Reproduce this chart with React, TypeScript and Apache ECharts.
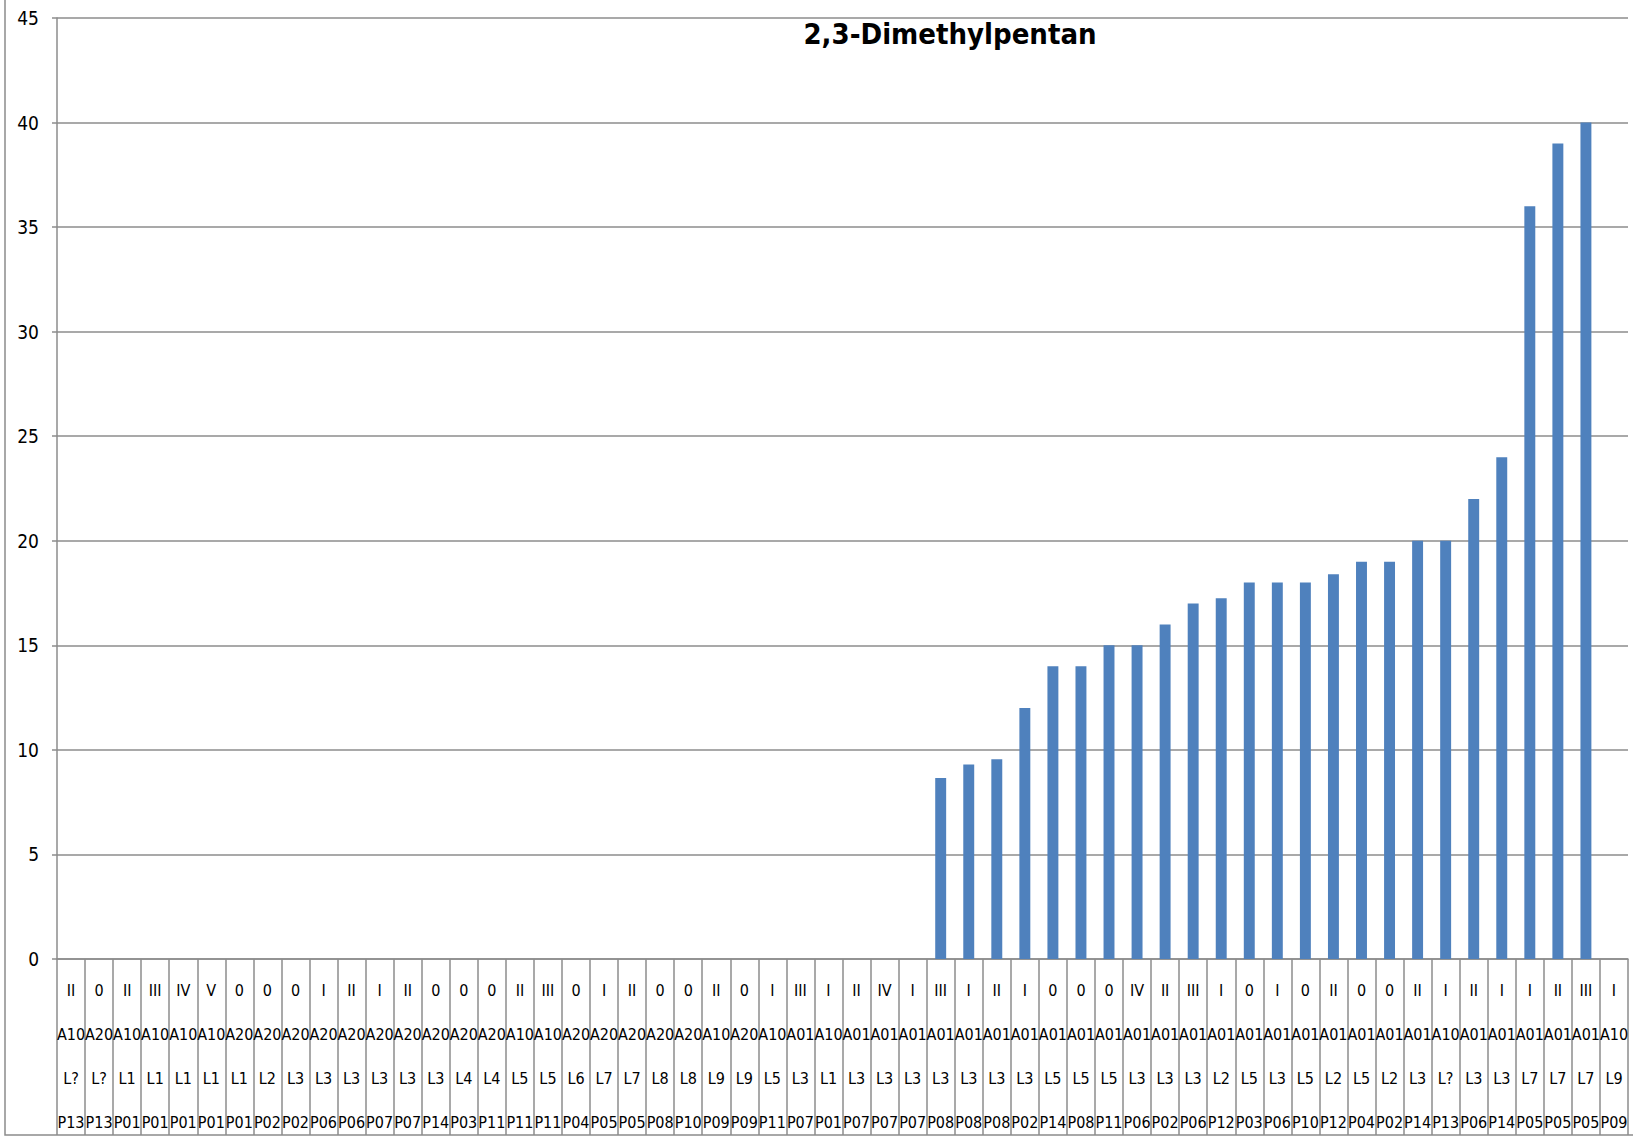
import React, { useEffect, useRef } from "react";
import * as echarts from "echarts";

const TITLE = "2,3-Dimethylpentan";

const rowLevel: string[] = ["II","0","II","III","IV","V","0","0","0","I","II","I","II","0","0","0","II","III","0","I","II","0","0","II","0","I","III","I","II","IV","I","III","I","II","I","0","0","0","IV","II","III","I","0","I","0","II","0","0","II","I","II","I","I","II","III","I"];
const rowA: string[] = ["A10","A20","A10","A10","A10","A10","A20","A20","A20","A20","A20","A20","A20","A20","A20","A20","A10","A10","A20","A20","A20","A20","A20","A10","A20","A10","A01","A10","A01","A01","A01","A01","A01","A01","A01","A01","A01","A01","A01","A01","A01","A01","A01","A01","A01","A01","A01","A01","A01","A10","A01","A01","A01","A01","A01","A10"];
const rowL: string[] = ["L?","L?","L1","L1","L1","L1","L1","L2","L3","L3","L3","L3","L3","L3","L4","L4","L5","L5","L6","L7","L7","L8","L8","L9","L9","L5","L3","L1","L3","L3","L3","L3","L3","L3","L3","L5","L5","L5","L3","L3","L3","L2","L5","L3","L5","L2","L5","L2","L3","L?","L3","L3","L7","L7","L7","L9"];
const rowP: string[] = ["P13","P13","P01","P01","P01","P01","P01","P02","P02","P06","P06","P07","P07","P14","P03","P11","P11","P11","P04","P05","P05","P08","P10","P09","P09","P11","P07","P01","P07","P07","P07","P08","P08","P08","P02","P14","P08","P11","P06","P02","P06","P12","P03","P06","P10","P12","P04","P02","P14","P13","P06","P14","P05","P05","P05","P09"];

const values: number[] = [
  0, 0, 0, 0, 0, 0, 0, 0, 0, 0,
  0, 0, 0, 0, 0, 0, 0, 0, 0, 0,
  0, 0, 0, 0, 0, 0, 0, 0, 0, 0,
  0,
  8.65, 9.3, 9.55, 12, 14, 14, 15, 15, 16, 17,
  17.25, 18, 18, 18, 18.4, 19, 19, 20, 20, 22,
  24, 36, 39, 40, 0,
];

const yTicks = { min: 0, max: 45, interval: 5 };

export default function App() {
  const ref = useRef<HTMLDivElement>(null);
  useEffect(() => {
    document.body.style.margin = "0";
    if (!ref.current) return;
    const chart = echarts.init(ref.current, null, { renderer: "svg" });
    const categories = rowLevel.map((v, i) => [v, rowA[i], rowL[i], rowP[i]].join("\n"));
    const grey = "#8c8c8c";
    const font = "'Liberation Sans Narrow', 'DejaVu Sans Condensed', 'Open Sans', sans-serif";
    chart.setOption({
      animation: false,
      backgroundColor: "#ffffff",
      textStyle: { fontFamily: font },
      title: {
        text: TITLE,
        left: 945,
        top: 14,
        textAlign: "center",
        textStyle: {
          fontFamily: font,
          fontWeight: "bold",
          fontSize: 29,
          color: "#000000",
        },
      },
      grid: { left: 57, right: 5, top: 18, bottom: 179, containLabel: false, outerBoundsMode: "none" },
      xAxis: {
        type: "category",
        data: categories,
        axisLine: { show: true, lineStyle: { color: grey, width: 1.5 } },
        axisTick: { show: true, interval: 0, length: 176, lineStyle: { color: grey, width: 1.5 } },
        axisLabel: {
          interval: 0,
          margin: 9,
          lineHeight: 44,
          fontSize: 16,
          color: "#000000",
          fontFamily: font,
        },
      },
      yAxis: {
        type: "value",
        min: yTicks.min,
        max: yTicks.max,
        interval: yTicks.interval,
        axisLine: { show: true, lineStyle: { color: grey, width: 1.5 } },
        axisTick: { show: true, length: 5, lineStyle: { color: grey, width: 1.5 } },
        axisLabel: {
          margin: 18,
          fontSize: 19,
          color: "#000000",
          fontFamily: font,
        },
        splitLine: { show: true, lineStyle: { color: grey, width: 1.5 } },
      },
      series: [
        {
          type: "bar",
          data: values,
          barWidth: "39%",
          itemStyle: { color: "#4f81bd" },
        },
      ],
      graphic: [
        {
          type: "rect",
          shape: { x: 5, y: -5, width: 1640, height: 1140 },
          style: { fill: "none", stroke: grey, lineWidth: 1.5 },
          silent: true,
        },
      ],
    });
    return () => chart.dispose();
  }, []);
  return <div ref={ref} style={{ width: 1633, height: 1138 }} />;
}
